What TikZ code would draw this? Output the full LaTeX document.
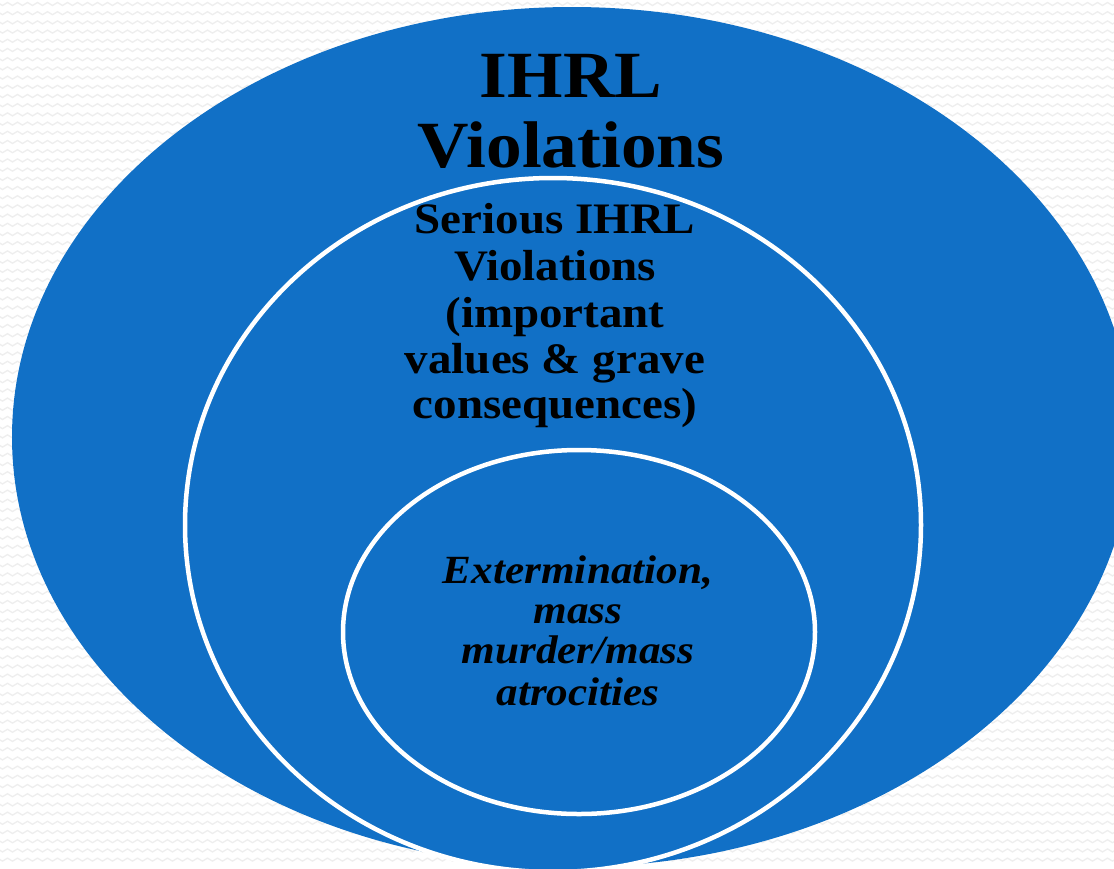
\documentclass[tikz,border=0pt]{standalone}
\usepackage{fontspec}
\setmainfont{Liberation Serif}[FakeStretch=1.08]
\usetikzlibrary{shapes.geometric,decorations.pathmorphing}
\definecolor{ringblue}{RGB}{17,112,198}
\definecolor{texgray}{RGB}{238,238,238}
\begin{document}
\begin{tikzpicture}[x=1pt,y=-1pt,
  blob/.style={ellipse, fill=ringblue, inner sep=0pt, outer sep=0pt},
  ring/.style={blob, draw=white, line width=4.5pt},
  toptext/.style={font=\fontsize{66}{70}\selectfont\bfseries, anchor=base, inner sep=0pt},
  midtext/.style={font=\fontsize{43.5}{46}\selectfont\bfseries, anchor=base, inner sep=0pt},
  inntext/.style={font=\fontsize{40}{41}\selectfont\bfseries\itshape, anchor=base, inner sep=0pt},
  zig/.style={draw=texgray, line width=1.3pt, decorate, decoration={zigzag, segment length=10pt, amplitude=1.5pt}}]
\useasboundingbox (0,0) rectangle (1114,868);
\clip (0,0) rectangle (1114,868);
\fill[white] (0,0) rectangle (1114,868);
\foreach \r in {4,13.2,...,868} \draw[zig] (-5,\r) -- (1120,\r);
\node[blob, minimum width=1120pt, minimum height=860pt] (outer) at (572,437) {};
\node[ring, minimum width=736pt, minimum height=694pt] (middle) at (553,525) {};
\node[ring, minimum width=472pt, minimum height=364pt] (inner) at (579,632) {};
\node[toptext] (t1) at (571,97) {IHRL};
\node[toptext] (t2) at (571,167) {Violations};
\node[midtext] (s1) at (555,233) {Serious IHRL};
\node[midtext] (s2) at (555,280) {Violations};
\node[midtext] (s3) at (555,327) {(important};
\node[midtext] (s4) at (555,373) {values \& grave};
\node[midtext] (s5) at (555,418) {consequences)};
\node[inntext] (e1) at (578,583) {Extermination,};
\node[inntext] (e2) at (578,623) {mass};
\node[inntext] (e3) at (578,663) {murder/mass};
\node[inntext] (e4) at (578,705) {atrocities};
\end{tikzpicture}
\end{document}
